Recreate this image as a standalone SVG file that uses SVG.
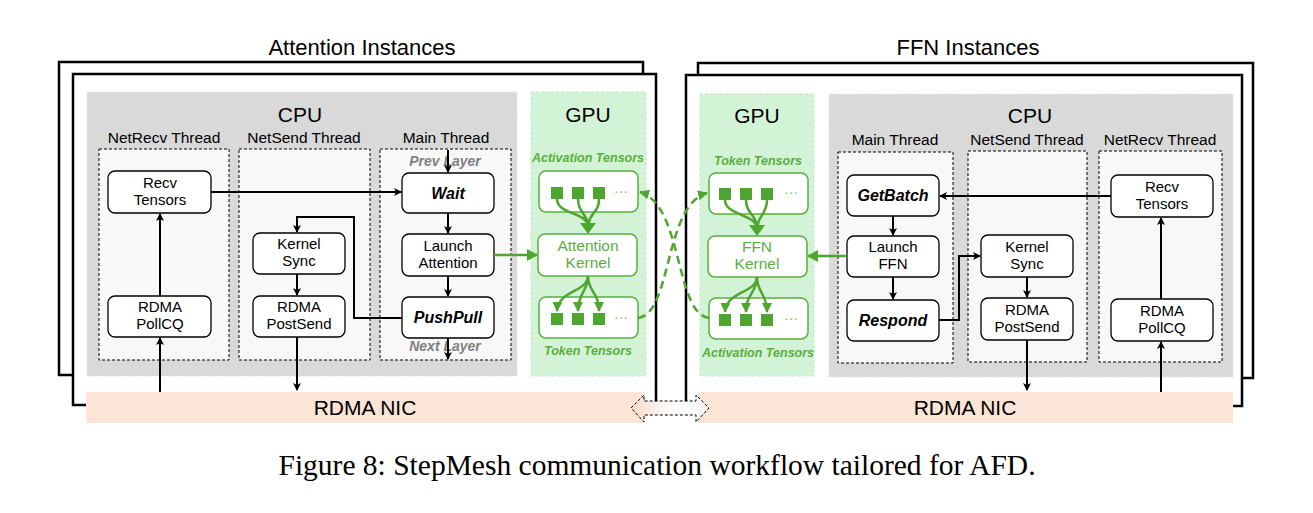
<svg xmlns="http://www.w3.org/2000/svg" width="1313" height="513" viewBox="0 0 1313 513">
<style>
text{font-family:"Liberation Sans",Arial,sans-serif;fill:#000}
.title{font-size:22px;text-anchor:middle}
.sec{font-size:21px;text-anchor:middle}
.thr{font-size:15.5px;text-anchor:middle}
.bt{font-size:15px;text-anchor:middle}
.bi{font-size:16px;text-anchor:middle;font-weight:bold;font-style:italic}
.lay{font-size:14px;text-anchor:middle;font-weight:bold;font-style:italic;fill:#808080}
.gt{font-size:15.5px;text-anchor:middle;fill:#5aae3e}
.glab{font-size:12.5px;text-anchor:middle;font-weight:bold;font-style:italic;fill:#5aae3e}
.dots{font-size:14px;text-anchor:middle;fill:#7cc060}
.nic{font-size:21px;text-anchor:middle}
.cap{font-family:"Liberation Serif","Times New Roman",serif;font-size:29.5px;text-anchor:middle}
.frame{fill:#fff;stroke:#000;stroke-width:2.5}
.cpu{fill:#d9d9d9;stroke:#e6e6e6;stroke-dasharray:3 2}
.gpu{fill:#d3f3d6;stroke:#c2e8c6;stroke-dasharray:3 2}
.thread{fill:#f8f8f8;stroke:#000;stroke-width:1;stroke-dasharray:3 2}
.box{fill:#fff;stroke:#000;stroke-width:1.3}
.gbox{fill:#fff;stroke:#5aae3e;stroke-width:1.5}
.sq{fill:#4ea52f}
.nicband{fill:#fce4d6}
.ln{fill:none;stroke:#000;stroke-width:2}
.gln{fill:none;stroke:#4ea52f;stroke-width:2.5}
.gdash{fill:none;stroke:#4ea52f;stroke-width:2.5;stroke-dasharray:8 5}
</style>
<defs>
<marker id="ah" markerWidth="8" markerHeight="8" refX="7" refY="4" orient="auto" markerUnits="userSpaceOnUse">
<path d="M0,0 L8,4 L0,8 L2,4 Z" fill="#000"/>
</marker>
<marker id="gah" markerWidth="12" markerHeight="12" refX="10" refY="6" orient="auto" markerUnits="userSpaceOnUse">
<path d="M0,0 L11,6 L0,12 Z" fill="#4ea52f"/>
</marker>
<marker id="gah2" markerWidth="10" markerHeight="10" refX="9" refY="5" orient="auto" markerUnits="userSpaceOnUse">
<path d="M0,0 L10,5 L0,10 Z" fill="#4ea52f"/>
</marker>
<linearGradient id="dg" x1="0" y1="0" x2="1" y2="0">
<stop offset="0" stop-color="#f7d8ca"/>
<stop offset="0.55" stop-color="#ffffff"/>
<stop offset="1" stop-color="#f2f2f2"/>
</linearGradient>
</defs>
<rect width="1313" height="513" fill="#fff"/>

<g id="attention-instances">
<rect class="frame" x="59" y="62" width="584" height="313"/>
<rect class="frame" x="73" y="74" width="583" height="331"/>
<text class="title" x="362" y="55">Attention Instances</text>
</g>
<g id="ffn-instances">
<rect class="frame" x="698" y="63" width="555" height="315"/>
<rect class="frame" x="686" y="75" width="556" height="331"/>
<text class="title" x="968" y="55">FFN Instances</text>
</g>

<g id="nic-left">
<rect class="nicband" x="86" y="392" width="559" height="31"/>
<text class="nic" x="365" y="415">RDMA NIC</text>
</g>
<g id="nic-right">
<rect class="nicband" x="698" y="392" width="535" height="31"/>
<text class="nic" x="965" y="415">RDMA NIC</text>
</g>
<g id="nic-link">
<path d="M631,408 L644,395 L644,401 L696,401 L696,395 L709,408 L696,422 L696,415 L644,415 L644,422 Z" fill="url(#dg)" stroke="#000" stroke-width="1" stroke-dasharray="3 2"/>
</g>

<g id="att-cpu">
<rect class="cpu" x="87" y="92" width="430" height="284"/>
<text class="sec" x="300" y="122">CPU</text>
</g>
<g id="att-netrecv">
<text class="thr" x="164" y="143">NetRecv Thread</text>
<rect class="thread" x="99" y="149" width="130" height="211"/>
</g>
<g id="att-netsend">
<text class="thr" x="304" y="143">NetSend Thread</text>
<rect class="thread" x="239" y="149" width="131" height="211"/>
</g>
<g id="att-main">
<text class="thr" x="446" y="143">Main Thread</text>
<rect class="thread" x="380" y="149" width="131" height="211"/>
<text class="lay" x="445" y="166">Prev  Layer</text>
<text class="lay" x="445" y="351">Next  Layer</text>
</g>
<g id="att-recv-tensors">
<rect class="box" x="108" y="171" width="103" height="42" rx="7"/>
<text class="bt" x="160" y="188">Recv</text>
<text class="bt" x="160" y="205">Tensors</text>
</g>
<g id="att-pollcq">
<rect class="box" x="108" y="296" width="103" height="41" rx="7"/>
<text class="bt" x="160" y="312">RDMA</text>
<text class="bt" x="160" y="329">PollCQ</text>
</g>
<g id="att-kernel-sync">
<rect class="box" x="253" y="233" width="92" height="41" rx="7"/>
<text class="bt" x="299" y="249">Kernel</text>
<text class="bt" x="299" y="266">Sync</text>
</g>
<g id="att-postsend">
<rect class="box" x="253" y="296" width="92" height="41" rx="7"/>
<text class="bt" x="299" y="312">RDMA</text>
<text class="bt" x="299" y="329">PostSend</text>
</g>
<g id="att-wait">
<rect class="box" x="402" y="173" width="92" height="40" rx="7"/>
<text class="bi" x="448" y="199">Wait</text>
</g>
<g id="att-launch">
<rect class="box" x="402" y="234" width="92" height="42" rx="7"/>
<text class="bt" x="448" y="251">Launch</text>
<text class="bt" x="448" y="268">Attention</text>
</g>
<g id="att-pushpull">
<rect class="box" x="402" y="297" width="92" height="41" rx="7"/>
<text class="bi" x="448" y="323">PushPull</text>
</g>

<g id="att-gpu">
<rect class="gpu" x="531" y="92" width="115" height="284"/>
<text class="sec" x="588" y="122">GPU</text>
<text class="glab" x="588" y="162">Activation Tensors</text>
<text class="glab" x="588" y="355">Token Tensors</text>
</g>
<g id="att-activation-tensors">
<rect class="gbox" x="539" y="171" width="99" height="41" rx="7"/>
<rect class="sq" x="551" y="187" width="12" height="12"/>
<rect class="sq" x="572" y="187" width="12" height="12"/>
<rect class="sq" x="593" y="187" width="12" height="12"/>
<text class="dots" x="621" y="196">···</text>
</g>
<g id="att-kernel">
<rect class="gbox" x="538" y="234" width="99" height="42" rx="7"/>
<text class="gt" x="588" y="251">Attention</text>
<text class="gt" x="588" y="268">Kernel</text>
</g>
<g id="att-token-tensors">
<rect class="gbox" x="539" y="297" width="99" height="41" rx="7"/>
<rect class="sq" x="551" y="313" width="12" height="12"/>
<rect class="sq" x="572" y="313" width="12" height="12"/>
<rect class="sq" x="593" y="313" width="12" height="12"/>
<text class="dots" x="621" y="322">···</text>
</g>

<g id="ffn-gpu">
<rect class="gpu" x="700" y="94" width="114" height="282"/>
<text class="sec" x="757" y="123">GPU</text>
<text class="glab" x="758" y="165">Token Tensors</text>
<text class="glab" x="758" y="357">Activation Tensors</text>
</g>
<g id="ffn-token-tensors">
<rect class="gbox" x="709" y="173" width="99" height="41" rx="7"/>
<rect class="sq" x="719" y="188" width="12" height="12"/>
<rect class="sq" x="740" y="188" width="12" height="12"/>
<rect class="sq" x="761" y="188" width="12" height="12"/>
<text class="dots" x="791" y="197">···</text>
</g>
<g id="ffn-kernel">
<rect class="gbox" x="708" y="236" width="99" height="41" rx="7"/>
<text class="gt" x="757" y="252">FFN</text>
<text class="gt" x="757" y="269">Kernel</text>
</g>
<g id="ffn-activation-tensors">
<rect class="gbox" x="709" y="298" width="99" height="41" rx="7"/>
<rect class="sq" x="719" y="314" width="12" height="12"/>
<rect class="sq" x="740" y="314" width="12" height="12"/>
<rect class="sq" x="761" y="314" width="12" height="12"/>
<text class="dots" x="791" y="323">···</text>
</g>

<g id="ffn-cpu">
<rect class="cpu" x="829" y="94" width="404" height="283"/>
<text class="sec" x="1030" y="123">CPU</text>
</g>
<g id="ffn-main">
<text class="thr" x="895" y="145">Main Thread</text>
<rect class="thread" x="838" y="152" width="115" height="211"/>
</g>
<g id="ffn-netsend">
<text class="thr" x="1027" y="145">NetSend Thread</text>
<rect class="thread" x="968" y="151" width="119" height="211"/>
</g>
<g id="ffn-netrecv">
<text class="thr" x="1160" y="145">NetRecv Thread</text>
<rect class="thread" x="1099" y="151" width="123" height="211"/>
</g>
<g id="ffn-getbatch">
<rect class="box" x="847" y="175" width="92" height="41" rx="7"/>
<text class="bi" x="893" y="201">GetBatch</text>
</g>
<g id="ffn-launch">
<rect class="box" x="847" y="236" width="92" height="41" rx="7"/>
<text class="bt" x="893" y="252">Launch</text>
<text class="bt" x="893" y="269">FFN</text>
</g>
<g id="ffn-respond">
<rect class="box" x="847" y="300" width="92" height="41" rx="7"/>
<text class="bi" x="893" y="326">Respond</text>
</g>
<g id="ffn-kernel-sync">
<rect class="box" x="981" y="235" width="92" height="42" rx="7"/>
<text class="bt" x="1027" y="252">Kernel</text>
<text class="bt" x="1027" y="269">Sync</text>
</g>
<g id="ffn-postsend">
<rect class="box" x="981" y="298" width="92" height="42" rx="7"/>
<text class="bt" x="1027" y="315">RDMA</text>
<text class="bt" x="1027" y="332">PostSend</text>
</g>
<g id="ffn-recv-tensors">
<rect class="box" x="1111" y="175" width="102" height="42" rx="7"/>
<text class="bt" x="1162" y="192">Recv</text>
<text class="bt" x="1162" y="209">Tensors</text>
</g>
<g id="ffn-pollcq">
<rect class="box" x="1111" y="299" width="102" height="42" rx="7"/>
<text class="bt" x="1162" y="316">RDMA</text>
<text class="bt" x="1162" y="333">PollCQ</text>
</g>

<g id="connectors">
<path class="ln" d="M211,192 H401" marker-end="url(#ah)"/>
<path class="ln" d="M160,296 V214" marker-end="url(#ah)"/>
<path class="ln" d="M160,392 V338" marker-end="url(#ah)"/>
<path class="ln" d="M448,150 V172" marker-end="url(#ah)"/>
<path class="ln" d="M448,213 V233" marker-end="url(#ah)"/>
<path class="ln" d="M448,276 V296" marker-end="url(#ah)"/>
<path class="ln" d="M448,338 V359" marker-end="url(#ah)"/>
<path class="ln" d="M402,318 H354 V217 H297 V232" marker-end="url(#ah)"/>
<path class="ln" d="M297,274 V295" marker-end="url(#ah)"/>
<path class="ln" d="M297,337 V390" marker-end="url(#ah)"/>
<path class="gln" d="M494,255 H537" marker-end="url(#gah)"/>

<path class="ln" d="M1111,196 H940" marker-end="url(#ah)"/>
<path class="ln" d="M1161,299 V218" marker-end="url(#ah)"/>
<path class="ln" d="M1161,392 V342" marker-end="url(#ah)"/>
<path class="ln" d="M893,216 V235" marker-end="url(#ah)"/>
<path class="ln" d="M893,277 V299" marker-end="url(#ah)"/>
<path class="ln" d="M939,320 H959 V256 H980" marker-end="url(#ah)"/>
<path class="ln" d="M1027,277 V297" marker-end="url(#ah)"/>
<path class="ln" d="M1027,340 V390" marker-end="url(#ah)"/>
<path class="gln" d="M847,256 H808" marker-end="url(#gah)"/>

<path class="gln" d="M557,199 C557,214 585,212 588,225"/>
<path class="gln" d="M578,199 C578,213 587,213 588,225"/>
<path class="gln" d="M599,199 C599,213 590,212 588,225"/>
<path d="M580,223 L596,223 L588,234 Z" fill="#4ea52f"/>
<path class="gln" d="M588,276 C588,292 558,290 557,311" marker-end="url(#gah2)"/>
<path class="gln" d="M588,276 C588,292 578,292 578,311" marker-end="url(#gah2)"/>
<path class="gln" d="M588,276 C588,292 599,292 599,311" marker-end="url(#gah2)"/>

<path class="gln" d="M725,200 C725,215 754,214 757,227"/>
<path class="gln" d="M746,200 C746,214 756,214 757,227"/>
<path class="gln" d="M767,200 C767,214 759,214 757,227"/>
<path d="M749,225 L765,225 L757,236 Z" fill="#4ea52f"/>
<path class="gln" d="M757,277 C757,293 726,291 725,312" marker-end="url(#gah2)"/>
<path class="gln" d="M757,277 C757,293 746,293 746,312" marker-end="url(#gah2)"/>
<path class="gln" d="M757,277 C757,293 767,293 767,312" marker-end="url(#gah2)"/>

<path class="gdash" d="M638,318 C672,314 664,205 707,193" marker-end="url(#gah2)"/>
<path class="gdash" d="M709,318 C675,314 683,205 640,192" marker-end="url(#gah2)"/>
</g>

<text class="cap" x="657" y="475">Figure 8: StepMesh communication workflow tailored for AFD.</text>
</svg>
